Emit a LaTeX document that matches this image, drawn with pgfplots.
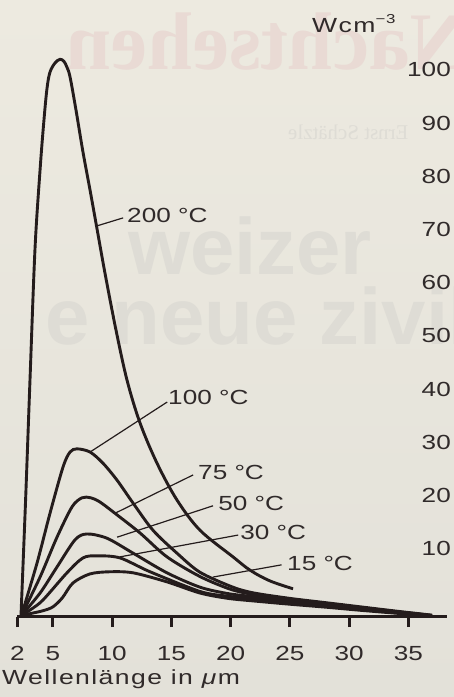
\documentclass[border=0pt]{standalone}
\usepackage{pgfplots}
\pgfplotsset{compat=1.18}
\usepackage{fontspec}
\setmainfont{Liberation Sans}[FakeStretch=1.28]
\newfontfamily\widefont{Liberation Sans}[FakeStretch=1.3,LetterSpace=7]
\newfontfamily\ghostserif{Liberation Serif}
\newfontfamily\ghostsans{Liberation Sans}
\definecolor{ink}{RGB}{36,28,28}
\definecolor{ink2}{RGB}{48,42,42}
\definecolor{bgtop}{RGB}{237,234,224}
\definecolor{bgbot}{RGB}{227,225,217}
\definecolor{ghostpink}{RGB}{233,218,212}
\definecolor{ghostgray}{RGB}{222,220,213}
\begin{document}
\begin{tikzpicture}[x=1bp,y=1bp]
\useasboundingbox (0,0) rectangle (454,697);
\shade[top color=bgtop, bottom color=bgbot] (0,0) rectangle (454,697);
% faint show-through text of the page
\begin{scope}
\clip (0,0) rectangle (454,697);
\node[anchor=base east, inner sep=0pt, text=ghostpink] at (470,627)
  {\scalebox{-1}[1]{\fontsize{82}{90}\ghostserif\bfseries Nachtsehen}};
\node[anchor=base west, inner sep=0pt, text=ghostgray] at (288,557)
  {\scalebox{-1}[1]{\fontsize{21}{24}\ghostserif Ernst Schätzle}};
\node[anchor=base west, inner sep=0pt, text=ghostgray] at (128,422)
  {\fontsize{80}{90}\ghostsans\bfseries weizer};
\node[anchor=base west, inner sep=0pt, text=ghostgray] at (45,352)
  {\fontsize{80}{90}\ghostsans\bfseries e neue zivile};
\end{scope}
% axis label texts
\node[anchor=base west, inner sep=0pt, text=ink2] at (2,12)
  {\fontsize{20.5}{24}\widefont Wellenlänge in \textit{μ}m};
\node[anchor=base west, inner sep=0pt, text=ink2] at (312,664)
  {\fontsize{20.5}{24}\widefont Wcm\raisebox{9bp}{\fontsize{13}{15}\selectfont −3}};
\begin{axis}[
  at={(17.3bp,80bp)}, anchor=south west, scale only axis,
  width=429.7bp, height=596bp,
  xmin=2, xmax=38.26, ymin=0, ymax=112, clip=false,
  axis x line*=bottom, axis y line*=right,
  y axis line style={draw=none}, ytick style={draw=none},
  x axis line style={line width=3bp, color=ink},
  xtick={2,5,10,15,20,25,30,35}, ytick={10,20,...,100},
  tick align=outside, major tick length=10bp,
  xtick style={line width=3bp, color=ink},
  /pgf/number format/assume math mode=true,
  ticklabel style={font=\fontsize{20.5}{24}\selectfont, text=ink2},
  x tick label style={anchor=north, inner sep=0pt, yshift=-19bp},
  y tick label style={anchor=east, inner sep=0pt, xshift=-6bp, yshift=15bp},
]
% 200 C
\addplot[ink, line width=2.9bp, smooth, tension=0.55] coordinates {
(2.31,0.19)(2.70,22.0)(3.07,44.5)(3.49,69.0)(3.92,84.0)(4.25,93.4)(4.51,99.4)
(4.76,102.4)(5.18,104.1)(5.60,104.8)(5.94,104.4)
(6.19,103.3)(6.45,101.5)(6.95,95.3)(7.54,87.4)(8.14,80.2)(8.73,72.9)(9.40,64.6)
(10.33,53.9)(11.26,44.5)(12.35,36.5)(13.79,28.9)(15.47,22.0)(17.42,16.3)
(20.2,11.3)(21.64,8.8)(23.3,6.8)(25.27,5.3)};
% 100 C
\addplot[ink, line width=2.9bp, smooth, tension=0.5] coordinates {
(2.35,0.3)(3.66,10.1)(4.76,19.5)(5.86,28.2)(6.45,31.0)(7.04,31.6)(8.14,31.0)
(9.23,28.9)(10.42,25.7)(11.77,21.4)(13.45,16.3)(15.47,12.0)(17.42,8.4)(20.2,5.6)
(22,4.5)(25,3.5)(28,2.7)(31,1.9)(34,1.1)(37,0.35)};
% 75 C
\addplot[ink, line width=2.9bp, smooth, tension=0.5] coordinates {
(2.35,0.3)(3.92,7.5)(5.35,15.0)(6.62,20.7)(7.46,22.4)(8.2,22.4)(8.98,21.6)
(10.41,19.2)(12.35,15.8)(14.63,11.3)(17.42,7.6)(20.0,5.2)(22,4.2)(25,3.25)
(28,2.5)(31,1.75)(34,1.0)(37,0.3)};
% 50 C
\addplot[ink, line width=2.9bp, smooth, tension=0.5] coordinates {
(2.35,0.3)(3.92,4.5)(5.35,9.4)(6.87,14.5)(7.88,15.6)(9.57,14.8)(11.77,12.0)
(14.63,8.3)(17.42,5.6)(19.78,4.4)(22,3.8)(25,3.0)(28,2.3)(31,1.6)(34,0.9)(37,0.25)};
% 30 C
\addplot[ink, line width=2.9bp, smooth, tension=0.5] coordinates {
(2.35,0.3)(3.2,1.5)(4.17,3.2)(6.19,8.3)(7.54,11.1)(8.73,11.5)(10.67,11.1)
(13.2,8.5)(17.42,4.8)(19.78,3.9)(22,3.4)(25,2.7)(28,2.1)(31,1.45)(34,0.8)(37,0.2)};
% 15 C
\addplot[ink, line width=2.9bp, smooth, tension=0.5] coordinates {
(2.35,0.3)(3.33,0.75)(4.2,1.2)(5.0,1.9)(5.8,3.6)(6.7,6.4)(8.14,8.1)(9.83,8.5)
(11.77,8.3)(14.63,6.6)(17.42,4.5)(19.78,3.5)(22,3.0)(25,2.4)(28,1.85)(31,1.25)
(34,0.7)(37,0.15)};
% leader lines
\addplot[ink, line width=1.2bp] coordinates {(8.73,73.5)(10.93,75.0)};
\addplot[ink, line width=1.2bp] coordinates {(8.14,31.0)(14.65,40.4)};
\addplot[ink, line width=1.2bp] coordinates {(10.25,19.5)(16.84,26.7)};
\addplot[ink, line width=1.2bp] coordinates {(10.42,15.0)(18.52,20.9)};
\addplot[ink, line width=1.2bp] coordinates {(10.67,11.3)(20.64,15.4)};
\addplot[ink, line width=1.2bp] coordinates {(18.5,7.5)(24.3,9.8)};
% labels
\node[anchor=west, inner sep=0pt, text=ink2, font=\fontsize{20.5}{24}\selectfont] at (axis cs:11.26,75.5) {200 °C};
\node[anchor=west, inner sep=0pt, text=ink2, font=\fontsize{20.5}{24}\selectfont] at (axis cs:14.72,41.3) {100 °C};
\node[anchor=west, inner sep=0pt, text=ink2, font=\fontsize{20.5}{24}\selectfont] at (axis cs:17.25,27.1) {75 °C};
\node[anchor=west, inner sep=0pt, text=ink2, font=\fontsize{20.5}{24}\selectfont] at (axis cs:18.94,21.4) {50 °C};
\node[anchor=west, inner sep=0pt, text=ink2, font=\fontsize{20.5}{24}\selectfont] at (axis cs:20.8,15.8) {30 °C};
\node[anchor=west, inner sep=0pt, text=ink2, font=\fontsize{20.5}{24}\selectfont] at (axis cs:24.76,10.0) {15 °C};
\end{axis}
\end{tikzpicture}
\end{document}
